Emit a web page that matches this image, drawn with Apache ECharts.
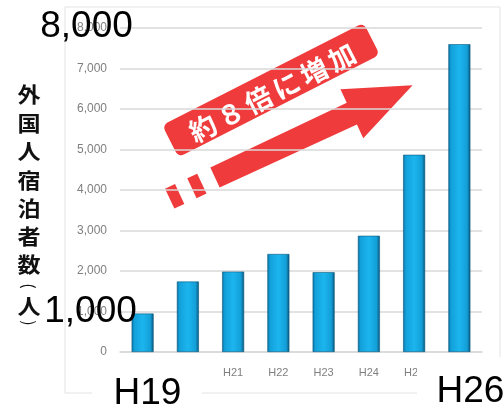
<!DOCTYPE html>
<html>
<head>
<meta charset="utf-8">
<script src="https://cdn.jsdelivr.net/npm/echarts@6/dist/echarts.min.js"></script>
<style>html,body{margin:0;padding:0;background:#fff;}#c{width:504px;height:411px;}</style>
</head>
<body>
<div id="c"></div>
<script>
const categories = ['H19', 'H20', 'H21', 'H22', 'H23', 'H24', 'H25', 'H26'];
const visitors = [950, 1740, 1985, 2420, 1970, 2870, 4870, 7600];
const yMin = 0, yMax = 8000, yStep = 1000;
const yTitleChars = ['外', '国', '人', '宿', '泊', '者', '数', '(', '人', ')'];
const calloutText = ['約', '８', '倍', 'に', '増', '加'];
const bigLabels = [
  { text: '8,000', x: 86.5, y: 26.5 },
  { text: '1,000', x: 90.5, y: 311.5 },
  { text: 'H19', x: 147.5, y: 393.5 },
  { text: 'H26', x: 470.5, y: 391.5 }
];

const chart = echarts.init(document.getElementById('c'), null, { renderer: 'canvas' });
const deg = Math.PI / 180;

// layout of the vertical title characters (centres, px)
const titleY = [94, 123, 151.5, 180, 208.5, 236.5, 264, 286, 306, 323];

const arrowRed = '#ef3b3b';
const calloutChildren = [
  { type: 'rect', shape: { x: -113, y: -18, width: 226, height: 36, r: 6 }, style: { fill: arrowRed } }
].concat(calloutText.map((ch, i) => ({
  type: 'text',
  x: -78 + i * 31.2, y: 3,
  style: { text: ch, fill: '#fff', font: 'bold 27px "Noto Sans CJK JP"', align: 'center', verticalAlign: 'middle' }
})));

const titleEls = yTitleChars.map((ch, i) => {
  const isParen = ch === '(' || ch === ')';
  return {
    type: 'text', z: 70, x: 29, y: titleY[i],
    scaleX: isParen ? 1 : 1.1,
    rotation: isParen ? -90 * deg : 0,
    style: {
      text: ch,
      font: isParen ? '16px "Noto Sans CJK JP"' : 'bold 21px "Noto Sans CJK JP"',
      fill: '#111', align: 'center', verticalAlign: 'middle'
    }
  };
});

const graphic = [
  { type: 'rect', z: 1, silent: true, shape: { x: 65, y: 7, width: 435, height: 386 },
    style: { fill: 'none', stroke: '#e3e3e3', lineWidth: 1 } },
  { type: 'group', x: 215, y: 177.5, rotation: 25 * deg, z: 50, children: [
    { type: 'polygon', shape: { points: [[0, -11], [151, -12], [151, -27], [218, 0], [151, 27], [151, 12], [0, 11]] }, style: { fill: arrowRed } },
    { type: 'rect', shape: { x: -25.5, y: -11, width: 11, height: 22 }, style: { fill: arrowRed } },
    { type: 'rect', shape: { x: -50, y: -11, width: 11, height: 22 }, style: { fill: arrowRed } }
  ] },
  { type: 'group', x: 271, y: 90, rotation: 27 * deg, z: 50, children: calloutChildren },
  { type: 'rect', z: 60, silent: true, shape: { x: 92, y: 362, width: 110, height: 49 }, style: { fill: '#fff' } },
  { type: 'rect', z: 60, silent: true, shape: { x: 417, y: 357, width: 87, height: 54 }, style: { fill: '#fff' } }
].concat(titleEls).concat(bigLabels.map(b => ({
  type: 'text', z: 70, x: b.x, y: b.y,
  style: { text: b.text, font: '37px "Liberation Sans"', fill: '#000', align: 'center', verticalAlign: 'middle' }
})));

chart.setOption({
  animation: false,
  backgroundColor: '#fff',
  grid: { left: 120, right: 22, top: 28, bottom: 59, containLabel: false },
  xAxis: {
    type: 'category',
    data: categories,
    axisTick: { show: false },
    axisLine: { lineStyle: { color: '#d9d9d9', width: 1.5 } },
    axisLabel: { color: '#7f7f7f', fontSize: 11, margin: 15, fontFamily: 'Liberation Sans' }
  },
  yAxis: {
    type: 'value',
    min: yMin, max: yMax, interval: yStep,
    axisLine: { show: false },
    axisTick: { show: false },
    axisLabel: { color: '#7f7f7f', fontSize: 12, margin: 13, fontFamily: 'Liberation Sans',
      formatter: v => v.toLocaleString('en-US') },
    splitLine: { lineStyle: { color: '#d9d9d9', width: 1.5 } }
  },
  series: [{
    type: 'bar',
    data: visitors,
    barWidth: 22,
    itemStyle: {
      color: new echarts.graphic.LinearGradient(0, 0, 1, 0, [
        { offset: 0, color: '#0a6f9e' },
        { offset: 0.12, color: '#12a0da' },
        { offset: 0.5, color: '#1cb5ee' },
        { offset: 0.85, color: '#139fd8' },
        { offset: 1, color: '#0a5578' }
      ]),
      borderColor: '#0b5a80',
      borderWidth: 0.6
    }
  }],
  graphic: graphic
});
</script>
</body>
</html>
